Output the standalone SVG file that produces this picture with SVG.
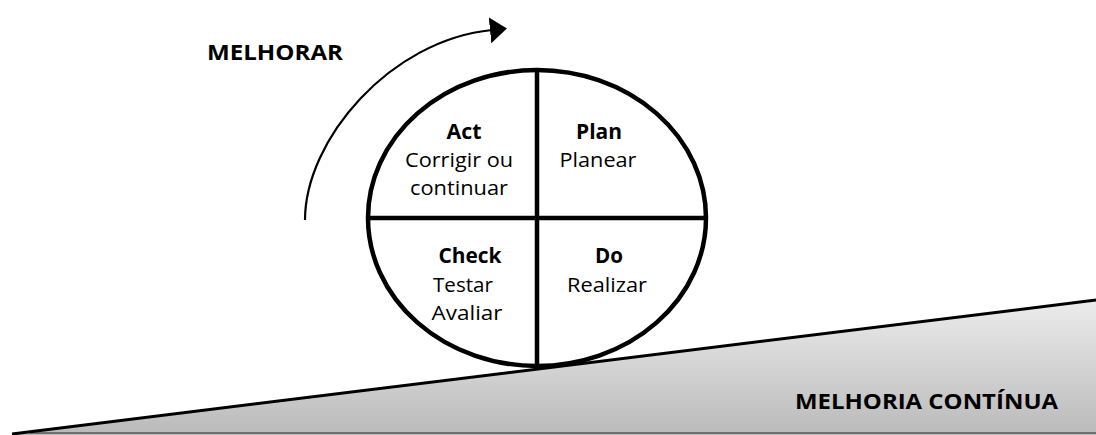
<svg xmlns="http://www.w3.org/2000/svg" width="1096" height="435" viewBox="0 0 1096 435">
<defs>
<linearGradient id="ramp" x1="0" y1="300" x2="0" y2="435" gradientUnits="userSpaceOnUse">
<stop offset="0" stop-color="#ececec"/>
<stop offset="1" stop-color="#bababa"/>
</linearGradient>
<marker id="arrow" markerWidth="18" markerHeight="28" refX="2" refY="14" orient="auto" markerUnits="userSpaceOnUse">
<path d="M0,1 L17,14 L0,27 Z" fill="#000"/>
</marker>
<style>
.t{font-family:"Open Sans","Liberation Sans",sans-serif;font-size:20.5px;fill:#000;text-anchor:middle}
.b{font-weight:bold}
.lbl{font-family:"Open Sans","Liberation Sans",sans-serif;font-size:21px;font-weight:bold;fill:#000}
.div{stroke:#000;stroke-width:4.5;fill:none}
</style>
</defs>
<rect width="1096" height="435" fill="#fff"/>
<g id="ramp-shape">
<path d="M12,434 L1096,300 L1096,435 L12,435 Z" fill="url(#ramp)"/>
<line x1="30" y1="433" x2="1096" y2="433" stroke="#6e6e6e" stroke-width="2"/>
<line x1="12" y1="434" x2="1096" y2="300" stroke="#000" stroke-width="3"/>
<text class="lbl" x="795" y="409" textLength="263" lengthAdjust="spacingAndGlyphs">MELHORIA CONTÍNUA</text>
</g>
<g id="connectors">
<path d="M305,220 C305,140 390,40 492,30" fill="none" stroke="#000" stroke-width="2.2" marker-end="url(#arrow)"/>
</g>
<g id="melhorar">
<text class="lbl" x="207" y="60" textLength="136" lengthAdjust="spacingAndGlyphs">MELHORAR</text>
</g>
<g id="wheel">
<ellipse cx="537" cy="218" rx="169" ry="148" fill="#fff" class="div"/>
<line class="div" x1="537" y1="70" x2="537" y2="366"/>
<line class="div" x1="368" y1="218" x2="706" y2="218"/>
</g>
<g id="act">
<text class="t b" x="464" y="139" textLength="35" lengthAdjust="spacingAndGlyphs">Act</text>
<text class="t" x="459" y="167" textLength="108" lengthAdjust="spacingAndGlyphs">Corrigir ou</text>
<text class="t" x="459" y="195" textLength="98" lengthAdjust="spacingAndGlyphs">continuar</text>
</g>
<g id="plan">
<text class="t b" x="599" y="139" textLength="46" lengthAdjust="spacingAndGlyphs">Plan</text>
<text class="t" x="598" y="167" textLength="77" lengthAdjust="spacingAndGlyphs">Planear</text>
</g>
<g id="check">
<text class="t b" x="470" y="263" textLength="63" lengthAdjust="spacingAndGlyphs">Check</text>
<text class="t" x="463" y="292" textLength="60" lengthAdjust="spacingAndGlyphs">Testar</text>
<text class="t" x="467" y="320" textLength="71" lengthAdjust="spacingAndGlyphs">Avaliar</text>
</g>
<g id="do">
<text class="t b" x="609" y="263" textLength="28" lengthAdjust="spacingAndGlyphs">Do</text>
<text class="t" x="607" y="292" textLength="80" lengthAdjust="spacingAndGlyphs">Realizar</text>
</g>
</svg>
